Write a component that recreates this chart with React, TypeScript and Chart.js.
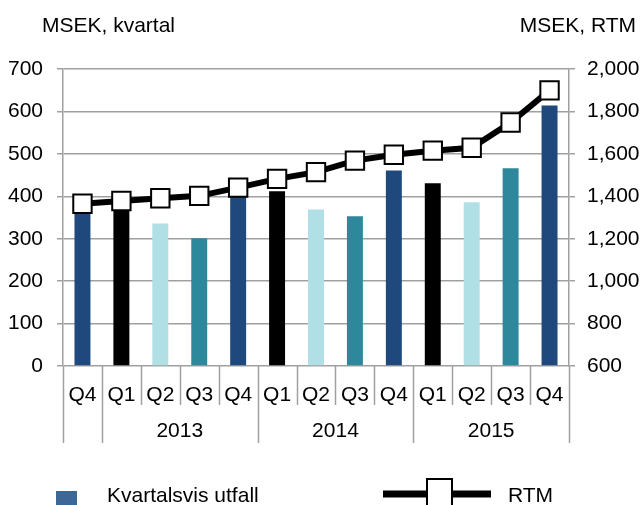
import React, { useEffect, useRef } from "react";
import { Chart, registerables } from "chart.js";

Chart.register(...registerables);

const quarters = ["Q4", "Q1", "Q2", "Q3", "Q4", "Q1", "Q2", "Q3", "Q4", "Q1", "Q2", "Q3", "Q4"];
const years = ["2013", "2014", "2015"];
const yearStartIndex = [1, 5, 9];
const quarterly = [365, 370, 336, 301, 400, 412, 369, 353, 461, 431, 386, 466, 614];
const rtm = [1365, 1378, 1391, 1402, 1441, 1482, 1514, 1568, 1596, 1615, 1629, 1748, 1899];
const quarterColors: Record<string, string> = {
  Q1: "#000000",
  Q2: "#b0dfe6",
  Q3: "#2e889b",
  Q4: "#1f497c",
};
const leftTitle = "MSEK, kvartal";
const rightTitle = "MSEK, RTM";
const barLegend = "Kvartalsvis utfall";
const lineLegend = "RTM";

const FONT = '"Liberation Sans", Arial, sans-serif';
const GRID = "#a0a0a0";

const overlay = {
  id: "overlay",
  afterDraw(chart: any) {
    const ctx = chart.ctx;
    const x = chart.scales.x;
    const area = chart.chartArea;
    ctx.save();
    ctx.font = `21px ${FONT}`;
    ctx.fillStyle = "#000";
    ctx.textBaseline = "alphabetic";
    ctx.textAlign = "left";
    ctx.fillText(leftTitle, 42, 32);
    ctx.textAlign = "right";
    ctx.fillText(rightTitle, 636, 32);

    const half = (x.getPixelForValue(1) - x.getPixelForValue(0)) / 2;
    const boundary = (i: number) => x.getPixelForValue(i) - half;
    const yearBounds = new Set([0, ...yearStartIndex, quarters.length]);
    ctx.strokeStyle = GRID;
    ctx.lineWidth = 1.5;
    for (let i = 0; i <= quarters.length; i++) {
      const bx = Math.round(boundary(i)) + 0.5;
      const len = yearBounds.has(i) ? 77 : 39;
      ctx.beginPath();
      ctx.moveTo(bx, area.bottom);
      ctx.lineTo(bx, area.bottom + len);
      ctx.stroke();
    }
    ctx.textAlign = "center";
    ctx.textBaseline = "middle";
    years.forEach((yr, k) => {
      const s = yearStartIndex[k];
      const e = s + 4;
      ctx.fillText(yr, (boundary(s) + boundary(e)) / 2, area.bottom + 65);
    });

    // legend
    ctx.fillStyle = "#3c6797";
    ctx.fillRect(56, 491, 21, 21);
    ctx.fillStyle = "#000";
    ctx.textAlign = "left";
    ctx.textBaseline = "alphabetic";
    ctx.fillText(barLegend, 107, 502);
    ctx.strokeStyle = "#000";
    ctx.lineWidth = 7;
    ctx.beginPath();
    ctx.moveTo(383, 494);
    ctx.lineTo(491, 494);
    ctx.stroke();
    ctx.fillStyle = "#fff";
    ctx.lineWidth = 2;
    ctx.fillRect(427, 479, 25, 30);
    ctx.strokeRect(427, 479, 25, 30);
    ctx.fillStyle = "#000";
    ctx.fillText(lineLegend, 508, 502);
    ctx.restore();
  },
};

export default function App() {
  const ref = useRef<HTMLCanvasElement | null>(null);
  useEffect(() => {
    document.body.style.margin = "0";
    if (!ref.current) return;
    const chart = new Chart(ref.current, {
      type: "bar",
      data: {
        labels: quarters,
        datasets: [
          {
            type: "line",
            label: lineLegend,
            data: rtm,
            yAxisID: "y1",
            borderColor: "#000",
            borderWidth: 6,
            pointStyle: "rect",
            pointRadius: 13,
            pointBackgroundColor: "#fff",
            pointBorderColor: "#000",
            pointBorderWidth: 2,
            tension: 0,
            order: 0,
          } as any,
          {
            type: "bar",
            label: barLegend,
            data: quarterly,
            yAxisID: "y",
            backgroundColor: quarters.map((q) => quarterColors[q]),
            categoryPercentage: 1,
            barPercentage: 0.41,
            order: 1,
          },
        ],
      },
      options: {
        responsive: false,
        animation: false,
        layout: { padding: { top: 69, bottom: 100, left: 0, right: 0 } },
        plugins: { legend: { display: false }, tooltip: { enabled: false } },
        scales: {
          x: {
            offset: true,
            grid: { display: false },
            border: { display: false },
            ticks: { color: "#000", font: { family: FONT, size: 21 }, padding: 9, maxRotation: 0, autoSkip: false },
            afterFit: (s: any) => {
              s.height = 39;
            },
          },
          y: {
            position: "left",
            min: 0,
            max: 700,
            ticks: { stepSize: 100, color: "#000", font: { family: FONT, size: 21 }, padding: 14 },
            grid: { color: GRID, lineWidth: 1.5, tickLength: 6 },
            border: { display: true, color: GRID, width: 1.5 },
            afterFit: (s: any) => {
              s.width = 63;
            },
          },
          y1: {
            position: "right",
            min: 600,
            max: 2000,
            ticks: {
              stepSize: 200,
              color: "#000",
              font: { family: FONT, size: 21 },
              padding: 12,
              callback: (v: any) => Number(v).toLocaleString("en-US"),
            },
            grid: { drawOnChartArea: false, color: GRID, lineWidth: 1.5, tickLength: 6 },
            border: { display: true, color: GRID, width: 1.5 },
            afterFit: (s: any) => {
              s.width = 74;
            },
          },
        },
      },
      plugins: [overlay],
    });
    return () => chart.destroy();
  }, []);
  return (
    <div style={{ width: 643, height: 505 }}>
      <canvas ref={ref} width={643} height={505} style={{ display: "block" }} />
    </div>
  );
}
